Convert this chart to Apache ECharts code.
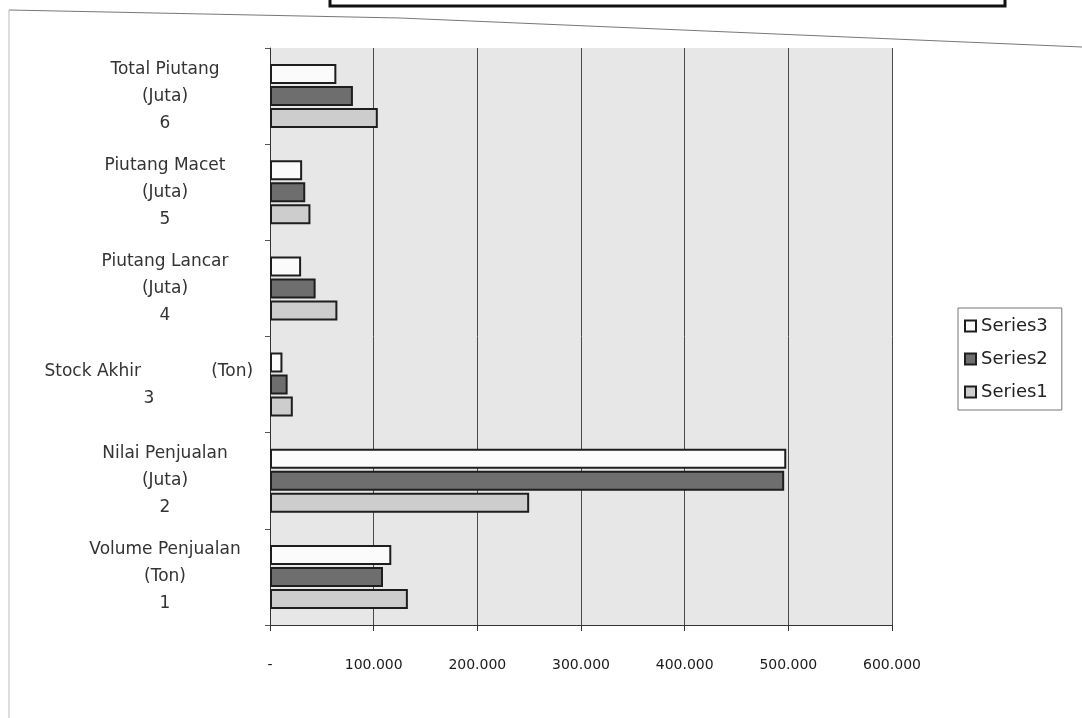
<!DOCTYPE html>
<html>
<head>
<meta charset="utf-8">
<script src="https://cdn.jsdelivr.net/npm/echarts@6/dist/echarts.min.js"></script>
<style>
html,body{margin:0;padding:0;background:#fff;}
#c{width:1082px;height:718px;}
</style>
</head>
<body>
<div id="c"></div>
<script>
const categories = [
  'Volume Penjualan\n(Ton)\n1',
  'Nilai Penjualan\n(Juta)\n2',
  'Stock Akhir             (Ton)      \n3      ',
  'Piutang Lancar\n(Juta)\n4',
  'Piutang Macet\n(Juta)\n5',
  'Total Piutang\n(Juta)\n6'
];
const series1 = [133000, 250000, 22000, 65000, 39000, 104000];
const series2 = [109000, 496000, 17000, 44000, 34000, 80000];
const series3 = [117000, 498000, 12000, 30000, 31000, 64000];
const xTickLabels = ['-', '100.000', '200.000', '300.000', '400.000', '500.000', '600.000'];

const chart = echarts.init(document.getElementById('c'));
const border = {borderColor: '#1e1e1e', borderWidth: 2};
chart.setOption({
  backgroundColor: '#ffffff',
  animation: false,
  textStyle: {fontFamily: 'DejaVu Sans'},
  grid: {
    left: 270, right: 190, top: 48, bottom: 93,
    show: true, backgroundColor: '#e7e7e7', borderWidth: 0
  },
  xAxis: {
    type: 'value', min: 0, max: 600000, interval: 100000,
    axisLine: {show: true, lineStyle: {color: '#333', width: 1}},
    axisTick: {show: true, length: 6, lineStyle: {color: '#333'}},
    splitLine: {show: true, lineStyle: {color: '#4a4a4a', width: 1}},
    axisLabel: {
      margin: 33, fontSize: 14, color: '#1a1a1a',
      formatter: function (v) { return xTickLabels[Math.round(v / 100000)]; }
    }
  },
  yAxis: {
    type: 'category', data: categories,
    axisLine: {show: true, lineStyle: {color: '#333', width: 1}},
    axisTick: {show: true, length: 5, lineStyle: {color: '#555'}},
    axisLabel: {
      margin: 105, align: 'center', fontSize: 17, lineHeight: 27, color: '#333',
      fontFamily: 'DejaVu Sans'
    }
  },
  legend: {
    orient: 'vertical', left: 958, top: 308, icon: 'rect',
    data: ['Series3', 'Series2', 'Series1'],
    itemWidth: 11, itemHeight: 11, itemGap: 15,
    borderColor: '#777', borderWidth: 1, padding: [9, 14, 9, 6],
    textStyle: {fontSize: 18, color: '#222', fontFamily: 'DejaVu Sans'}
  },
  series: [
    {name: 'Series3', type: 'bar', data: series3, barWidth: 20, barGap: '10%',
     itemStyle: Object.assign({color: '#fbfbfb'}, border)},
    {name: 'Series2', type: 'bar', data: series2, barWidth: 20, barGap: '10%',
     itemStyle: Object.assign({color: '#6e6e6e'}, border)},
    {name: 'Series1', type: 'bar', data: series1, barWidth: 20, barGap: '10%',
     itemStyle: Object.assign({color: '#cdcdcd'}, border)}
  ],
  graphic: [
    {type: 'polyline', silent: true,
     shape: {points: [[9, 10], [400, 18], [1082, 47]]},
     style: {stroke: '#777', lineWidth: 1, fill: null}},
    {type: 'line', silent: true,
     shape: {x1: 9, y1: 10, x2: 9, y2: 718},
     style: {stroke: '#bbb', lineWidth: 1}},
    {type: 'rect', silent: true,
     shape: {x: 330, y: -4, width: 675, height: 10},
     style: {fill: null, stroke: '#111', lineWidth: 3}}
  ]
});
</script>
</body>
</html>
